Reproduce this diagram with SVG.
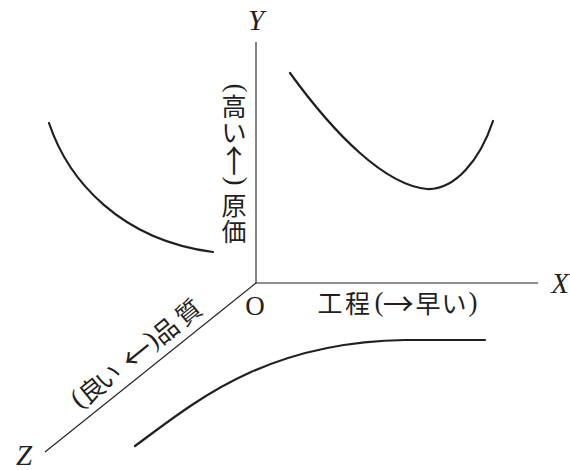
<svg xmlns="http://www.w3.org/2000/svg" width="570" height="470" viewBox="0 0 570 470">
<style>
.axis{stroke:#231f20;stroke-width:1.1;fill:none}
.curve{stroke:#231f20;stroke-width:2.2;fill:none;stroke-linecap:round}
.lat{font-family:"Liberation Serif","Times New Roman",serif;font-style:italic;font-size:29px;fill:#231f20;text-anchor:middle}
.o{font-family:"Liberation Serif","Times New Roman",serif;font-size:27px;fill:#231f20;text-anchor:middle}
.jp{font-family:"Noto Sans CJK JP","Noto Sans CJK SC",sans-serif;font-size:25px;fill:#231f20;text-anchor:middle}
.arr{font-family:"Noto Sans CJK JP","Noto Sans CJK SC",sans-serif;font-size:31px;fill:#231f20;text-anchor:middle}
.par{font-family:"Liberation Serif","Times New Roman",serif;font-size:27px;fill:#231f20;text-anchor:middle}
</style>
<g id="connectors">
<line class="axis" x1="256" y1="42" x2="256" y2="283"/>
<line class="axis" x1="256" y1="283" x2="538" y2="283"/>
<line class="axis" x1="256" y1="283" x2="45" y2="452"/>
</g>
<g id="curve-cost-left"><path class="curve" d="M49,123 C68,180 120,240 213,252"/></g>
<g id="curve-cost-right"><path class="curve" d="M290,73 C335,135 385,185 427,189 C455,190 480,160 493,121"/></g>
<g id="curve-quality"><path class="curve" d="M135,446 C195,402 265,342 405,340 L485,340"/></g>
<g id="axis-y-label">
<text class="lat" x="256" y="30">Y</text>
<text class="par" transform="translate(234.5,88) rotate(90)" x="0" y="7">(</text>
<text class="jp" x="234" y="116">高</text>
<text class="jp" x="234" y="142">い</text>
<text class="arr" x="234" y="171.5">↑</text>
<text class="par" transform="translate(234.5,181) rotate(90)" x="0" y="7">)</text>
<text class="jp" x="234" y="214.5">原</text>
<text class="jp" x="234" y="241">価</text>
</g>
<g id="axis-x-label">
<text class="lat" x="560" y="293">X</text>
<text class="jp" x="330 357.5" y="313">工程</text>
<text class="par" x="379" y="311">(</text>
<text class="arr" x="398.3" y="315">→</text>
<text class="jp" x="428 454" y="313">早い</text>
<text class="par" x="473" y="311">)</text>
</g>
<g id="origin"><text class="o" x="255" y="315">O</text></g>
<g id="axis-z-label">
<text class="lat" x="24" y="465">Z</text>
<g transform="translate(256,283) rotate(-38.86)">
<text class="par" x="-212" y="-13">(</text>
<text class="jp" x="-195 -174" y="-10.5">良い</text>
<text class="arr" x="-137" y="-7.5">←</text>
<text class="par" x="-117" y="-13">)</text>
<text class="jp" x="-100 -71" y="-10.5">品質</text>
</g>
</g>
</svg>
